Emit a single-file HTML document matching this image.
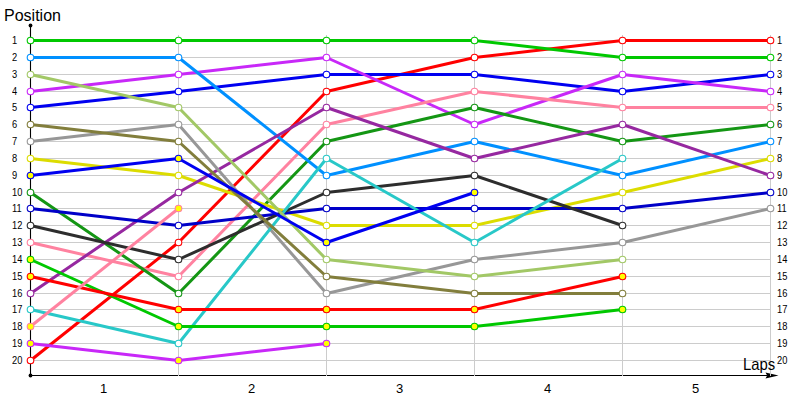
<!DOCTYPE html>
<html><head><meta charset="utf-8"><style>
html,body{margin:0;padding:0;background:#fff;width:800px;height:400px;overflow:hidden;position:relative}
body{font-family:"Liberation Sans",sans-serif;color:#000}
.yl{position:absolute;font-size:10px;line-height:12px;white-space:nowrap}
.xl{position:absolute;font-size:13px;line-height:16px;width:40px;text-align:center}
.tt{position:absolute;font-size:16.5px;line-height:20px;white-space:nowrap}
</style></head><body>
<svg width="800" height="400" viewBox="0 0 800 400" style="position:absolute;left:0;top:0">
<path d="M30.5 25.5V375.5H767" stroke="#000" stroke-width="1.1" fill="none"/>
<circle cx="30.5" cy="25.5" r="1.9" fill="#000"/>
<circle cx="30.5" cy="375.5" r="1.9" fill="#000"/>
<path d="M765.5 372.5L778.5 375.5L765.5 378.5L767.2 375.5Z" fill="#000"/>
<path d="M31 40.5H771 M31 57.5H771 M31 74.5H771 M31 91.5H771 M31 107.5H771 M31 124.5H771 M31 141.5H771 M31 158.5H771 M31 175.5H771 M31 192.5H771 M31 208.5H771 M31 225.5H771 M31 242.5H771 M31 259.5H771 M31 276.5H771 M31 293.5H771 M31 309.5H771 M31 326.5H771 M31 343.5H771 M31 360.5H771 M178.5 35V376 M326.5 35V376 M474.5 35V376 M622.5 35V376 M770.5 35V376" stroke="#cccccc" stroke-width="1" fill="none"/>
<polyline points="30.50,360.50 178.50,242.50 326.50,91.50 474.50,57.50 622.50,40.50 770.50,40.50" stroke="#ff0000" stroke-width="3" fill="none" stroke-linejoin="round"/>
<polyline points="30.50,40.50 178.50,40.50 326.50,40.50 474.50,40.50 622.50,57.50 770.50,57.50" stroke="#00c800" stroke-width="3" fill="none" stroke-linejoin="round"/>
<polyline points="30.50,107.50 178.50,91.50 326.50,74.50 474.50,74.50 622.50,91.50 770.50,74.50" stroke="#0000f0" stroke-width="3" fill="none" stroke-linejoin="round"/>
<polyline points="30.50,91.50 178.50,74.50 326.50,57.50 474.50,124.50 622.50,74.50 770.50,91.50" stroke="#c828f8" stroke-width="3" fill="none" stroke-linejoin="round"/>
<polyline points="30.50,242.50 178.50,276.50 326.50,124.50 474.50,91.50 622.50,107.50 770.50,107.50" stroke="#ff82a0" stroke-width="3" fill="none" stroke-linejoin="round"/>
<polyline points="30.50,192.50 178.50,293.50 326.50,141.50 474.50,107.50 622.50,141.50 770.50,124.50" stroke="#149614" stroke-width="3" fill="none" stroke-linejoin="round"/>
<polyline points="30.50,57.50 178.50,57.50 326.50,175.50 474.50,141.50 622.50,175.50 770.50,141.50" stroke="#0090ff" stroke-width="3" fill="none" stroke-linejoin="round"/>
<polyline points="30.50,158.50 178.50,175.50 326.50,225.50 474.50,225.50 622.50,192.50 770.50,158.50" stroke="#dcdc00" stroke-width="3" fill="none" stroke-linejoin="round"/>
<polyline points="30.50,293.50 178.50,192.50 326.50,107.50 474.50,158.50 622.50,124.50 770.50,175.50" stroke="#9628a0" stroke-width="3" fill="none" stroke-linejoin="round"/>
<polyline points="30.50,208.50 178.50,225.50 326.50,208.50 474.50,208.50 622.50,208.50 770.50,192.50" stroke="#0000c8" stroke-width="3" fill="none" stroke-linejoin="round"/>
<polyline points="30.50,141.50 178.50,124.50 326.50,293.50 474.50,259.50 622.50,242.50 770.50,208.50" stroke="#979797" stroke-width="3" fill="none" stroke-linejoin="round"/>
<polyline points="30.50,225.50 178.50,259.50 326.50,192.50 474.50,175.50 622.50,225.50" stroke="#2d2d2d" stroke-width="3" fill="none" stroke-linejoin="round"/>
<polyline points="30.50,309.50 178.50,343.50 326.50,158.50 474.50,242.50 622.50,158.50" stroke="#28c8c8" stroke-width="3" fill="none" stroke-linejoin="round"/>
<polyline points="30.50,124.50 178.50,141.50 326.50,276.50 474.50,293.50 622.50,293.50" stroke="#827e3c" stroke-width="3" fill="none" stroke-linejoin="round"/>
<polyline points="30.50,74.50 178.50,107.50 326.50,259.50 474.50,276.50 622.50,259.50" stroke="#a2c866" stroke-width="3" fill="none" stroke-linejoin="round"/>
<polyline points="30.50,259.50 178.50,326.50 326.50,326.50 474.50,326.50 622.50,309.50" stroke="#00c800" stroke-width="3" fill="none" stroke-linejoin="round"/>
<polyline points="30.50,276.50 178.50,309.50 326.50,309.50 474.50,309.50 622.50,276.50" stroke="#ff0000" stroke-width="3" fill="none" stroke-linejoin="round"/>
<polyline points="30.50,175.50 178.50,158.50 326.50,242.50 474.50,192.50" stroke="#0000f0" stroke-width="3" fill="none" stroke-linejoin="round"/>
<polyline points="30.50,343.50 178.50,360.50 326.50,343.50" stroke="#c828f8" stroke-width="3" fill="none" stroke-linejoin="round"/>
<polyline points="30.50,326.50 178.50,208.50" stroke="#ff82a0" stroke-width="3" fill="none" stroke-linejoin="round"/>
<circle cx="30.50" cy="360.50" r="3.3" fill="#ffffff" stroke="#ff0000" stroke-width="1.1"/>
<circle cx="178.50" cy="242.50" r="3.3" fill="#ffffff" stroke="#ff0000" stroke-width="1.1"/>
<circle cx="326.50" cy="91.50" r="3.3" fill="#ffffff" stroke="#ff0000" stroke-width="1.1"/>
<circle cx="474.50" cy="57.50" r="3.3" fill="#ffffff" stroke="#ff0000" stroke-width="1.1"/>
<circle cx="622.50" cy="40.50" r="3.3" fill="#ffffff" stroke="#ff0000" stroke-width="1.1"/>
<circle cx="770.50" cy="40.50" r="3.3" fill="#ffffff" stroke="#ff0000" stroke-width="1.1"/>
<circle cx="30.50" cy="40.50" r="3.3" fill="#ffffff" stroke="#00c800" stroke-width="1.1"/>
<circle cx="178.50" cy="40.50" r="3.3" fill="#ffffff" stroke="#00c800" stroke-width="1.1"/>
<circle cx="326.50" cy="40.50" r="3.3" fill="#ffffff" stroke="#00c800" stroke-width="1.1"/>
<circle cx="474.50" cy="40.50" r="3.3" fill="#ffffff" stroke="#00c800" stroke-width="1.1"/>
<circle cx="622.50" cy="57.50" r="3.3" fill="#ffffff" stroke="#00c800" stroke-width="1.1"/>
<circle cx="770.50" cy="57.50" r="3.3" fill="#ffffff" stroke="#00c800" stroke-width="1.1"/>
<circle cx="30.50" cy="107.50" r="3.3" fill="#ffffff" stroke="#0000f0" stroke-width="1.1"/>
<circle cx="178.50" cy="91.50" r="3.3" fill="#ffffff" stroke="#0000f0" stroke-width="1.1"/>
<circle cx="326.50" cy="74.50" r="3.3" fill="#ffffff" stroke="#0000f0" stroke-width="1.1"/>
<circle cx="474.50" cy="74.50" r="3.3" fill="#ffffff" stroke="#0000f0" stroke-width="1.1"/>
<circle cx="622.50" cy="91.50" r="3.3" fill="#ffffff" stroke="#0000f0" stroke-width="1.1"/>
<circle cx="770.50" cy="74.50" r="3.3" fill="#ffffff" stroke="#0000f0" stroke-width="1.1"/>
<circle cx="30.50" cy="91.50" r="3.3" fill="#ffffff" stroke="#c828f8" stroke-width="1.1"/>
<circle cx="178.50" cy="74.50" r="3.3" fill="#ffffff" stroke="#c828f8" stroke-width="1.1"/>
<circle cx="326.50" cy="57.50" r="3.3" fill="#ffffff" stroke="#c828f8" stroke-width="1.1"/>
<circle cx="474.50" cy="124.50" r="3.3" fill="#ffffff" stroke="#c828f8" stroke-width="1.1"/>
<circle cx="622.50" cy="74.50" r="3.3" fill="#ffffff" stroke="#c828f8" stroke-width="1.1"/>
<circle cx="770.50" cy="91.50" r="3.3" fill="#ffffff" stroke="#c828f8" stroke-width="1.1"/>
<circle cx="30.50" cy="242.50" r="3.3" fill="#ffffff" stroke="#ff82a0" stroke-width="1.1"/>
<circle cx="178.50" cy="276.50" r="3.3" fill="#ffffff" stroke="#ff82a0" stroke-width="1.1"/>
<circle cx="326.50" cy="124.50" r="3.3" fill="#ffffff" stroke="#ff82a0" stroke-width="1.1"/>
<circle cx="474.50" cy="91.50" r="3.3" fill="#ffffff" stroke="#ff82a0" stroke-width="1.1"/>
<circle cx="622.50" cy="107.50" r="3.3" fill="#ffffff" stroke="#ff82a0" stroke-width="1.1"/>
<circle cx="770.50" cy="107.50" r="3.3" fill="#ffffff" stroke="#ff82a0" stroke-width="1.1"/>
<circle cx="30.50" cy="192.50" r="3.3" fill="#ffffff" stroke="#149614" stroke-width="1.1"/>
<circle cx="178.50" cy="293.50" r="3.3" fill="#ffffff" stroke="#149614" stroke-width="1.1"/>
<circle cx="326.50" cy="141.50" r="3.3" fill="#ffffff" stroke="#149614" stroke-width="1.1"/>
<circle cx="474.50" cy="107.50" r="3.3" fill="#ffffff" stroke="#149614" stroke-width="1.1"/>
<circle cx="622.50" cy="141.50" r="3.3" fill="#ffffff" stroke="#149614" stroke-width="1.1"/>
<circle cx="770.50" cy="124.50" r="3.3" fill="#ffffff" stroke="#149614" stroke-width="1.1"/>
<circle cx="30.50" cy="57.50" r="3.3" fill="#ffffff" stroke="#0090ff" stroke-width="1.1"/>
<circle cx="178.50" cy="57.50" r="3.3" fill="#ffffff" stroke="#0090ff" stroke-width="1.1"/>
<circle cx="326.50" cy="175.50" r="3.3" fill="#ffffff" stroke="#0090ff" stroke-width="1.1"/>
<circle cx="474.50" cy="141.50" r="3.3" fill="#ffffff" stroke="#0090ff" stroke-width="1.1"/>
<circle cx="622.50" cy="175.50" r="3.3" fill="#ffffff" stroke="#0090ff" stroke-width="1.1"/>
<circle cx="770.50" cy="141.50" r="3.3" fill="#ffffff" stroke="#0090ff" stroke-width="1.1"/>
<circle cx="30.50" cy="158.50" r="3.3" fill="#ffffff" stroke="#dcdc00" stroke-width="1.1"/>
<circle cx="178.50" cy="175.50" r="3.3" fill="#ffffff" stroke="#dcdc00" stroke-width="1.1"/>
<circle cx="326.50" cy="225.50" r="3.3" fill="#ffffff" stroke="#dcdc00" stroke-width="1.1"/>
<circle cx="474.50" cy="225.50" r="3.3" fill="#ffffff" stroke="#dcdc00" stroke-width="1.1"/>
<circle cx="622.50" cy="192.50" r="3.3" fill="#ffffff" stroke="#dcdc00" stroke-width="1.1"/>
<circle cx="770.50" cy="158.50" r="3.3" fill="#ffffff" stroke="#dcdc00" stroke-width="1.1"/>
<circle cx="30.50" cy="293.50" r="3.3" fill="#ffffff" stroke="#9628a0" stroke-width="1.1"/>
<circle cx="178.50" cy="192.50" r="3.3" fill="#ffffff" stroke="#9628a0" stroke-width="1.1"/>
<circle cx="326.50" cy="107.50" r="3.3" fill="#ffffff" stroke="#9628a0" stroke-width="1.1"/>
<circle cx="474.50" cy="158.50" r="3.3" fill="#ffffff" stroke="#9628a0" stroke-width="1.1"/>
<circle cx="622.50" cy="124.50" r="3.3" fill="#ffffff" stroke="#9628a0" stroke-width="1.1"/>
<circle cx="770.50" cy="175.50" r="3.3" fill="#ffffff" stroke="#9628a0" stroke-width="1.1"/>
<circle cx="30.50" cy="208.50" r="3.3" fill="#ffffff" stroke="#0000c8" stroke-width="1.1"/>
<circle cx="178.50" cy="225.50" r="3.3" fill="#ffffff" stroke="#0000c8" stroke-width="1.1"/>
<circle cx="326.50" cy="208.50" r="3.3" fill="#ffffff" stroke="#0000c8" stroke-width="1.1"/>
<circle cx="474.50" cy="208.50" r="3.3" fill="#ffffff" stroke="#0000c8" stroke-width="1.1"/>
<circle cx="622.50" cy="208.50" r="3.3" fill="#ffffff" stroke="#0000c8" stroke-width="1.1"/>
<circle cx="770.50" cy="192.50" r="3.3" fill="#ffffff" stroke="#0000c8" stroke-width="1.1"/>
<circle cx="30.50" cy="141.50" r="3.3" fill="#ffffff" stroke="#979797" stroke-width="1.1"/>
<circle cx="178.50" cy="124.50" r="3.3" fill="#ffffff" stroke="#979797" stroke-width="1.1"/>
<circle cx="326.50" cy="293.50" r="3.3" fill="#ffffff" stroke="#979797" stroke-width="1.1"/>
<circle cx="474.50" cy="259.50" r="3.3" fill="#ffffff" stroke="#979797" stroke-width="1.1"/>
<circle cx="622.50" cy="242.50" r="3.3" fill="#ffffff" stroke="#979797" stroke-width="1.1"/>
<circle cx="770.50" cy="208.50" r="3.3" fill="#ffffff" stroke="#979797" stroke-width="1.1"/>
<circle cx="30.50" cy="225.50" r="3.3" fill="#ffffff" stroke="#2d2d2d" stroke-width="1.1"/>
<circle cx="178.50" cy="259.50" r="3.3" fill="#ffffff" stroke="#2d2d2d" stroke-width="1.1"/>
<circle cx="326.50" cy="192.50" r="3.3" fill="#ffffff" stroke="#2d2d2d" stroke-width="1.1"/>
<circle cx="474.50" cy="175.50" r="3.3" fill="#ffffff" stroke="#2d2d2d" stroke-width="1.1"/>
<circle cx="622.50" cy="225.50" r="3.3" fill="#ffffff" stroke="#2d2d2d" stroke-width="1.1"/>
<circle cx="30.50" cy="309.50" r="3.3" fill="#ffffff" stroke="#28c8c8" stroke-width="1.1"/>
<circle cx="178.50" cy="343.50" r="3.3" fill="#ffffff" stroke="#28c8c8" stroke-width="1.1"/>
<circle cx="326.50" cy="158.50" r="3.3" fill="#ffffff" stroke="#28c8c8" stroke-width="1.1"/>
<circle cx="474.50" cy="242.50" r="3.3" fill="#ffffff" stroke="#28c8c8" stroke-width="1.1"/>
<circle cx="622.50" cy="158.50" r="3.3" fill="#ffffff" stroke="#28c8c8" stroke-width="1.1"/>
<circle cx="30.50" cy="124.50" r="3.3" fill="#ffffff" stroke="#827e3c" stroke-width="1.1"/>
<circle cx="178.50" cy="141.50" r="3.3" fill="#ffffff" stroke="#827e3c" stroke-width="1.1"/>
<circle cx="326.50" cy="276.50" r="3.3" fill="#ffffff" stroke="#827e3c" stroke-width="1.1"/>
<circle cx="474.50" cy="293.50" r="3.3" fill="#ffffff" stroke="#827e3c" stroke-width="1.1"/>
<circle cx="622.50" cy="293.50" r="3.3" fill="#ffffff" stroke="#827e3c" stroke-width="1.1"/>
<circle cx="30.50" cy="74.50" r="3.3" fill="#ffffff" stroke="#a2c866" stroke-width="1.1"/>
<circle cx="178.50" cy="107.50" r="3.3" fill="#ffffff" stroke="#a2c866" stroke-width="1.1"/>
<circle cx="326.50" cy="259.50" r="3.3" fill="#ffffff" stroke="#a2c866" stroke-width="1.1"/>
<circle cx="474.50" cy="276.50" r="3.3" fill="#ffffff" stroke="#a2c866" stroke-width="1.1"/>
<circle cx="622.50" cy="259.50" r="3.3" fill="#ffffff" stroke="#a2c866" stroke-width="1.1"/>
<circle cx="30.50" cy="259.50" r="3.3" fill="#ffff00" stroke="#00c800" stroke-width="1.1"/>
<circle cx="178.50" cy="326.50" r="3.3" fill="#ffff00" stroke="#00c800" stroke-width="1.1"/>
<circle cx="326.50" cy="326.50" r="3.3" fill="#ffff00" stroke="#00c800" stroke-width="1.1"/>
<circle cx="474.50" cy="326.50" r="3.3" fill="#ffff00" stroke="#00c800" stroke-width="1.1"/>
<circle cx="622.50" cy="309.50" r="3.3" fill="#ffff00" stroke="#00c800" stroke-width="1.1"/>
<circle cx="30.50" cy="276.50" r="3.3" fill="#ffff00" stroke="#ff0000" stroke-width="1.1"/>
<circle cx="178.50" cy="309.50" r="3.3" fill="#ffff00" stroke="#ff0000" stroke-width="1.1"/>
<circle cx="326.50" cy="309.50" r="3.3" fill="#ffff00" stroke="#ff0000" stroke-width="1.1"/>
<circle cx="474.50" cy="309.50" r="3.3" fill="#ffff00" stroke="#ff0000" stroke-width="1.1"/>
<circle cx="622.50" cy="276.50" r="3.3" fill="#ffff00" stroke="#ff0000" stroke-width="1.1"/>
<circle cx="30.50" cy="175.50" r="3.3" fill="#ffff00" stroke="#0000f0" stroke-width="1.1"/>
<circle cx="178.50" cy="158.50" r="3.3" fill="#ffff00" stroke="#0000f0" stroke-width="1.1"/>
<circle cx="326.50" cy="242.50" r="3.3" fill="#ffff00" stroke="#0000f0" stroke-width="1.1"/>
<circle cx="474.50" cy="192.50" r="3.3" fill="#ffff00" stroke="#0000f0" stroke-width="1.1"/>
<circle cx="30.50" cy="343.50" r="3.3" fill="#ffff00" stroke="#c828f8" stroke-width="1.1"/>
<circle cx="178.50" cy="360.50" r="3.3" fill="#ffff00" stroke="#c828f8" stroke-width="1.1"/>
<circle cx="326.50" cy="343.50" r="3.3" fill="#ffff00" stroke="#c828f8" stroke-width="1.1"/>
<circle cx="30.50" cy="326.50" r="3.3" fill="#ffff00" stroke="#ff82a0" stroke-width="1.1"/>
<circle cx="178.50" cy="208.50" r="3.3" fill="#ffff00" stroke="#ff82a0" stroke-width="1.1"/>
</svg>
<div class="tt" style="left:4px;top:5px;transform:scaleX(0.97);transform-origin:0 0">Position</div>
<div class="tt" style="left:742.7px;top:354px;transform:scaleX(0.9);transform-origin:0 0">Laps</div>
<div class="yl" style="left:12px;top:35.0px;transform:scaleX(0.93);transform-origin:0 0">1</div><div class="yl" style="left:777px;top:35.0px;transform:scaleX(0.93);transform-origin:0 0">1</div><div class="yl" style="left:12px;top:52.0px;transform:scaleX(0.93);transform-origin:0 0">2</div><div class="yl" style="left:777px;top:52.0px;transform:scaleX(0.93);transform-origin:0 0">2</div><div class="yl" style="left:12px;top:69.0px;transform:scaleX(0.93);transform-origin:0 0">3</div><div class="yl" style="left:777px;top:69.0px;transform:scaleX(0.93);transform-origin:0 0">3</div><div class="yl" style="left:12px;top:86.0px;transform:scaleX(0.93);transform-origin:0 0">4</div><div class="yl" style="left:777px;top:86.0px;transform:scaleX(0.93);transform-origin:0 0">4</div><div class="yl" style="left:12px;top:102.0px;transform:scaleX(0.93);transform-origin:0 0">5</div><div class="yl" style="left:777px;top:102.0px;transform:scaleX(0.93);transform-origin:0 0">5</div><div class="yl" style="left:12px;top:119.0px;transform:scaleX(0.93);transform-origin:0 0">6</div><div class="yl" style="left:777px;top:119.0px;transform:scaleX(0.93);transform-origin:0 0">6</div><div class="yl" style="left:12px;top:136.0px;transform:scaleX(0.93);transform-origin:0 0">7</div><div class="yl" style="left:777px;top:136.0px;transform:scaleX(0.93);transform-origin:0 0">7</div><div class="yl" style="left:12px;top:153.0px;transform:scaleX(0.93);transform-origin:0 0">8</div><div class="yl" style="left:777px;top:153.0px;transform:scaleX(0.93);transform-origin:0 0">8</div><div class="yl" style="left:12px;top:170.0px;transform:scaleX(0.93);transform-origin:0 0">9</div><div class="yl" style="left:777px;top:170.0px;transform:scaleX(0.93);transform-origin:0 0">9</div><div class="yl" style="left:12px;top:187.0px;transform:scaleX(0.93);transform-origin:0 0">10</div><div class="yl" style="left:777px;top:187.0px;transform:scaleX(0.93);transform-origin:0 0">10</div><div class="yl" style="left:12px;top:203.0px;transform:scaleX(0.93);transform-origin:0 0">11</div><div class="yl" style="left:777px;top:203.0px;transform:scaleX(0.93);transform-origin:0 0">11</div><div class="yl" style="left:12px;top:220.0px;transform:scaleX(0.93);transform-origin:0 0">12</div><div class="yl" style="left:777px;top:220.0px;transform:scaleX(0.93);transform-origin:0 0">12</div><div class="yl" style="left:12px;top:237.0px;transform:scaleX(0.93);transform-origin:0 0">13</div><div class="yl" style="left:777px;top:237.0px;transform:scaleX(0.93);transform-origin:0 0">13</div><div class="yl" style="left:12px;top:254.0px;transform:scaleX(0.93);transform-origin:0 0">14</div><div class="yl" style="left:777px;top:254.0px;transform:scaleX(0.93);transform-origin:0 0">14</div><div class="yl" style="left:12px;top:271.0px;transform:scaleX(0.93);transform-origin:0 0">15</div><div class="yl" style="left:777px;top:271.0px;transform:scaleX(0.93);transform-origin:0 0">15</div><div class="yl" style="left:12px;top:288.0px;transform:scaleX(0.93);transform-origin:0 0">16</div><div class="yl" style="left:777px;top:288.0px;transform:scaleX(0.93);transform-origin:0 0">16</div><div class="yl" style="left:12px;top:304.0px;transform:scaleX(0.93);transform-origin:0 0">17</div><div class="yl" style="left:777px;top:304.0px;transform:scaleX(0.93);transform-origin:0 0">17</div><div class="yl" style="left:12px;top:321.0px;transform:scaleX(0.93);transform-origin:0 0">18</div><div class="yl" style="left:777px;top:321.0px;transform:scaleX(0.93);transform-origin:0 0">18</div><div class="yl" style="left:12px;top:338.0px;transform:scaleX(0.93);transform-origin:0 0">19</div><div class="yl" style="left:777px;top:338.0px;transform:scaleX(0.93);transform-origin:0 0">19</div><div class="yl" style="left:12px;top:355.0px;transform:scaleX(0.93);transform-origin:0 0">20</div><div class="yl" style="left:777px;top:355.0px;transform:scaleX(0.93);transform-origin:0 0">20</div><div class="xl" style="left:83.5px;top:381px">1</div><div class="xl" style="left:231.5px;top:381px">2</div><div class="xl" style="left:379.5px;top:381px">3</div><div class="xl" style="left:527.5px;top:381px">4</div><div class="xl" style="left:675.5px;top:381px">5</div>
</body></html>
